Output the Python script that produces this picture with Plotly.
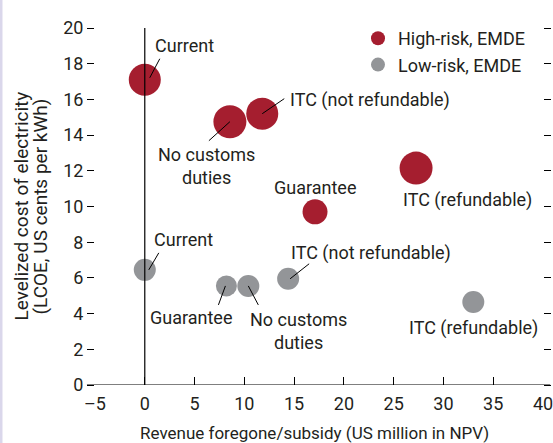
import plotly.graph_objects as go

# Scenario results: subsidy cost (x) vs. levelized cost of electricity (y)
high_scenarios = ["Current", "No customs<br>duties", "ITC (not refundable)", "Guarantee", "ITC (refundable)"]
high_revenue = [0.0, 8.55, 11.8, 17.1, 27.25]
high_lcoe = [17.1, 14.75, 15.2, 9.7, 12.15]
high_bubble = [32, 33, 32, 25, 33]

low_scenarios = ["Current", "Guarantee", "No customs<br>duties", "ITC (not refundable)", "ITC (refundable)"]
low_revenue = [0.0, 8.2, 10.4, 14.4, 33.0]
low_lcoe = [6.45, 5.55, 5.55, 5.95, 4.65]
low_bubble = [22, 21, 22, 22, 22]

x_ticks = [-5, 0, 5, 10, 15, 20, 25, 30, 35, 40]
y_ticks = [0, 2, 4, 6, 8, 10, 12, 14, 16, 18, 20]

RED = "#A51E2F"
GREY = "#939598"
INK = "#231F20"
FONT = "Roboto, Liberation Sans, Arial, sans-serif"
FS = 18

# label placement (pixel offsets from the bubble centre) and optional leader line
high_layout = [
    dict(dx=40, dy=34, line=(5, 2, 15, 21)),
    dict(dx=-23, dy=-44, line=(0, 0, -21, -19)),
    dict(dx=108, dy=14, line=(0, 0, 22, 15)),
    dict(dx=0, dy=24, line=None),
    dict(dx=51, dy=-32, line=None),
]
low_layout = [
    dict(dx=39, dy=30, line=(4, 0, 14, 17)),
    dict(dx=-35, dy=-32, line=(-1, 0, -8, -19)),
    dict(dx=50, dy=-45, line=(0, 0, 10, -19)),
    dict(dx=83, dy=26, line=(2, 0, 21, 15)),
    dict(dx=0, dy=-26, line=None),
]

fig = go.Figure()
fig.add_trace(go.Scatter(
    x=high_revenue, y=high_lcoe, mode="markers", name="High-risk, EMDE",
    marker=dict(color=RED, size=high_bubble, line=dict(width=0), opacity=1),
    showlegend=False, hoverinfo="skip"))
fig.add_trace(go.Scatter(
    x=low_revenue, y=low_lcoe, mode="markers", name="Low-risk, EMDE",
    marker=dict(color=GREY, size=low_bubble, line=dict(width=0), opacity=1),
    showlegend=False, hoverinfo="skip"))
# legend entries
fig.add_trace(go.Scatter(x=[None], y=[None], mode="markers", name="High-risk, EMDE",
                         marker=dict(color=RED, size=14)))
fig.add_trace(go.Scatter(x=[None], y=[None], mode="markers", name="Low-risk, EMDE",
                         marker=dict(color=GREY, size=14)))

shapes = []
annotations = []
for xs, ys, names, lay in [(high_revenue, high_lcoe, high_scenarios, high_layout),
                           (low_revenue, low_lcoe, low_scenarios, low_layout)]:
    for x, y, name, l in zip(xs, ys, names, lay):
        annotations.append(dict(
            x=x, y=y, xref="x", yref="y", text=name, showarrow=False,
            xshift=l["dx"], yshift=l["dy"], xanchor="center", yanchor="middle",
            font=dict(family=FONT, size=FS, color=INK)))
        if l["line"]:
            x0, y0, x1, y1 = l["line"]
            shapes.append(dict(
                type="line", xref="x", yref="y",
                xsizemode="pixel", ysizemode="pixel", xanchor=x, yanchor=y,
                x0=x0, y0=y0, x1=x1, y1=y1, layer="above",
                line=dict(color="black", width=1)))

# vertical reference line at zero subsidy
shapes.append(dict(type="line", xref="x", yref="y", x0=0, x1=0, y0=0, y1=20,
                   layer="above", line=dict(color="black", width=1.2)))
# horizontal axis line, extending a little past the end ticks
shapes.append(dict(type="line", xref="paper", yref="y", x0=-0.018, x1=1.016, y0=0, y1=0,
                   layer="above", line=dict(color="black", width=1.2)))
# thin page border on the left
shapes.append(dict(type="rect", xref="paper", yref="paper",
                   x0=-0.2121, x1=-0.2065, y0=-0.17, y1=1.09,
                   fillcolor="#DAD7EB", line=dict(width=0), layer="below"))

# y-axis title, two lines set individually for tight line spacing
for text, px in [("Levelized cost of electricity", 21), ("(LCOE, US cents per kWh)", 40)]:
    annotations.append(dict(
        xref="paper", yref="paper", x=(px - 95) / 448, y=0.5, textangle=-90,
        text=text, showarrow=False, xanchor="center", yanchor="middle",
        font=dict(family=FONT, size=19, color=INK)))
annotations.append(dict(
    xref="paper", yref="paper", x=(314 - 95) / 448, y=(385 - 433) / 357,
    text="Revenue foregone/subsidy (US million in NPV)", showarrow=False,
    xanchor="center", yanchor="middle", font=dict(family=FONT, size=17, color=INK)))

fig.update_layout(
    width=553, height=443,
    margin=dict(l=95, r=10, t=28, b=58, autoexpand=False),
    paper_bgcolor="white", plot_bgcolor="white",
    font=dict(family=FONT, size=FS, color=INK),
    shapes=shapes, annotations=annotations,
    legend=dict(x=(358 - 95) / 448, y=1.0 + (28 - 20) / 357, xanchor="left", yanchor="top",
                bgcolor="rgba(0,0,0,0)", font=dict(family=FONT, size=FS, color=INK),
                itemsizing="trace", tracegroupgap=0, itemwidth=30),
    xaxis=dict(range=[-5, 40], tickvals=x_ticks, ticktext=[str(v).replace("-", "\u2013") for v in x_ticks],
               showgrid=False, zeroline=False, showline=False,
               ticks="inside", ticklen=8, tickcolor="black", tickwidth=1.2,
               ticklabelstandoff=6, ticklabeloverflow="allow",
               tickfont=dict(family=FONT, size=FS, color=INK), fixedrange=True),
    yaxis=dict(range=[0, 20], tickvals=y_ticks, showgrid=False, zeroline=False, showline=False,
               ticks="outside", ticklen=7, tickcolor="black", tickwidth=1.2, mirror="ticks",
               tickfont=dict(family=FONT, size=FS, color=INK), fixedrange=True),
)

fig.write_html("out.html")
